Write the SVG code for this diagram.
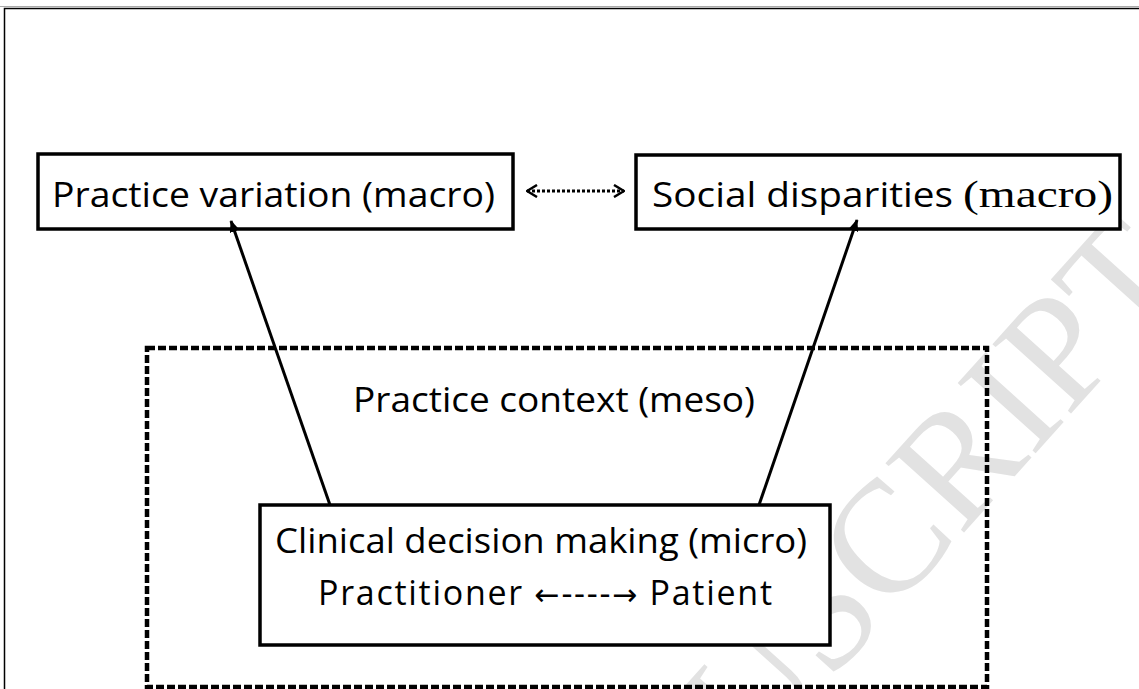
<svg xmlns="http://www.w3.org/2000/svg" width="1139" height="689" viewBox="0 0 1139 689">
<style>
.box{fill:#fff;stroke:#000;stroke-width:3.5}
.lbl{font-family:"Open Sans","Noto Sans",sans-serif;font-size:34px;fill:#000}
.conn{stroke:#000;stroke-width:3;fill:none}
.wm{font-family:"Liberation Serif",serif;font-size:160px;fill:#e2e2e2}
.arw{font-family:"DejaVu Sans",sans-serif;font-size:30px}
</style>
<defs>
<marker id="tri" viewBox="0 0 12 10" refX="11" refY="5" markerWidth="12" markerHeight="10" markerUnits="userSpaceOnUse" orient="auto">
<path d="M0,0 L12,5 L0,10 Z" fill="#000"/>
</marker>
<marker id="chev" viewBox="0 0 12 14" refX="11" refY="7" markerWidth="12" markerHeight="14" markerUnits="userSpaceOnUse" orient="auto-start-reverse">
<path d="M1,1 L11,7 L1,13" fill="none" stroke="#000" stroke-width="2.5"/>
</marker>
</defs>
<rect width="1139" height="689" fill="#fff"/>
<line x1="0" y1="6.5" x2="1139" y2="6.5" stroke="#aaa" stroke-width="1"/>
<rect x="4.5" y="8.5" width="1200" height="800" fill="none" stroke="#000" stroke-width="1.5"/>
<text class="wm" transform="translate(752,768) rotate(-48)">USCRIPT</text>
<g id="meso">
<rect x="147" y="348" width="840" height="339" fill="none" stroke="#000" stroke-width="4.5" stroke-dasharray="8 3"/>
<text class="lbl" x="353" y="412" textLength="402" lengthAdjust="spacingAndGlyphs">Practice context (meso)</text>
</g>
<g id="practice-variation">
<rect class="box" x="38" y="154" width="475" height="75"/>
<text class="lbl" x="52" y="207" textLength="443" lengthAdjust="spacingAndGlyphs">Practice variation (macro)</text>
</g>
<g id="social-disparities">
<rect class="box" x="636" y="155" width="484" height="74"/>
<text class="lbl" x="652" y="207" textLength="301" lengthAdjust="spacingAndGlyphs">Social disparities</text>
<text x="963" y="207" font-family="Liberation Serif,serif" font-size="38" textLength="150" lengthAdjust="spacingAndGlyphs">(macro)</text>
</g>
<g id="clinical">
<rect class="box" x="260" y="505" width="570" height="140"/>
<text class="lbl" x="275" y="553" textLength="532" lengthAdjust="spacingAndGlyphs">Clinical decision making (micro)</text>
<text class="lbl" x="318" y="605" textLength="454" lengthAdjust="spacing">Practitioner <tspan class="arw">←</tspan>----<tspan class="arw">→</tspan> Patient</text>
</g>
<g id="connectors">
<line class="conn" x1="330" y1="505" x2="231" y2="221" marker-end="url(#tri)"/>
<line class="conn" x1="759" y1="505" x2="857" y2="220" marker-end="url(#tri)"/>
<line x1="527" y1="191" x2="624" y2="191" stroke="#000" stroke-width="3" stroke-dasharray="3 2" marker-start="url(#chev)" marker-end="url(#chev)"/>
</g>
</svg>
